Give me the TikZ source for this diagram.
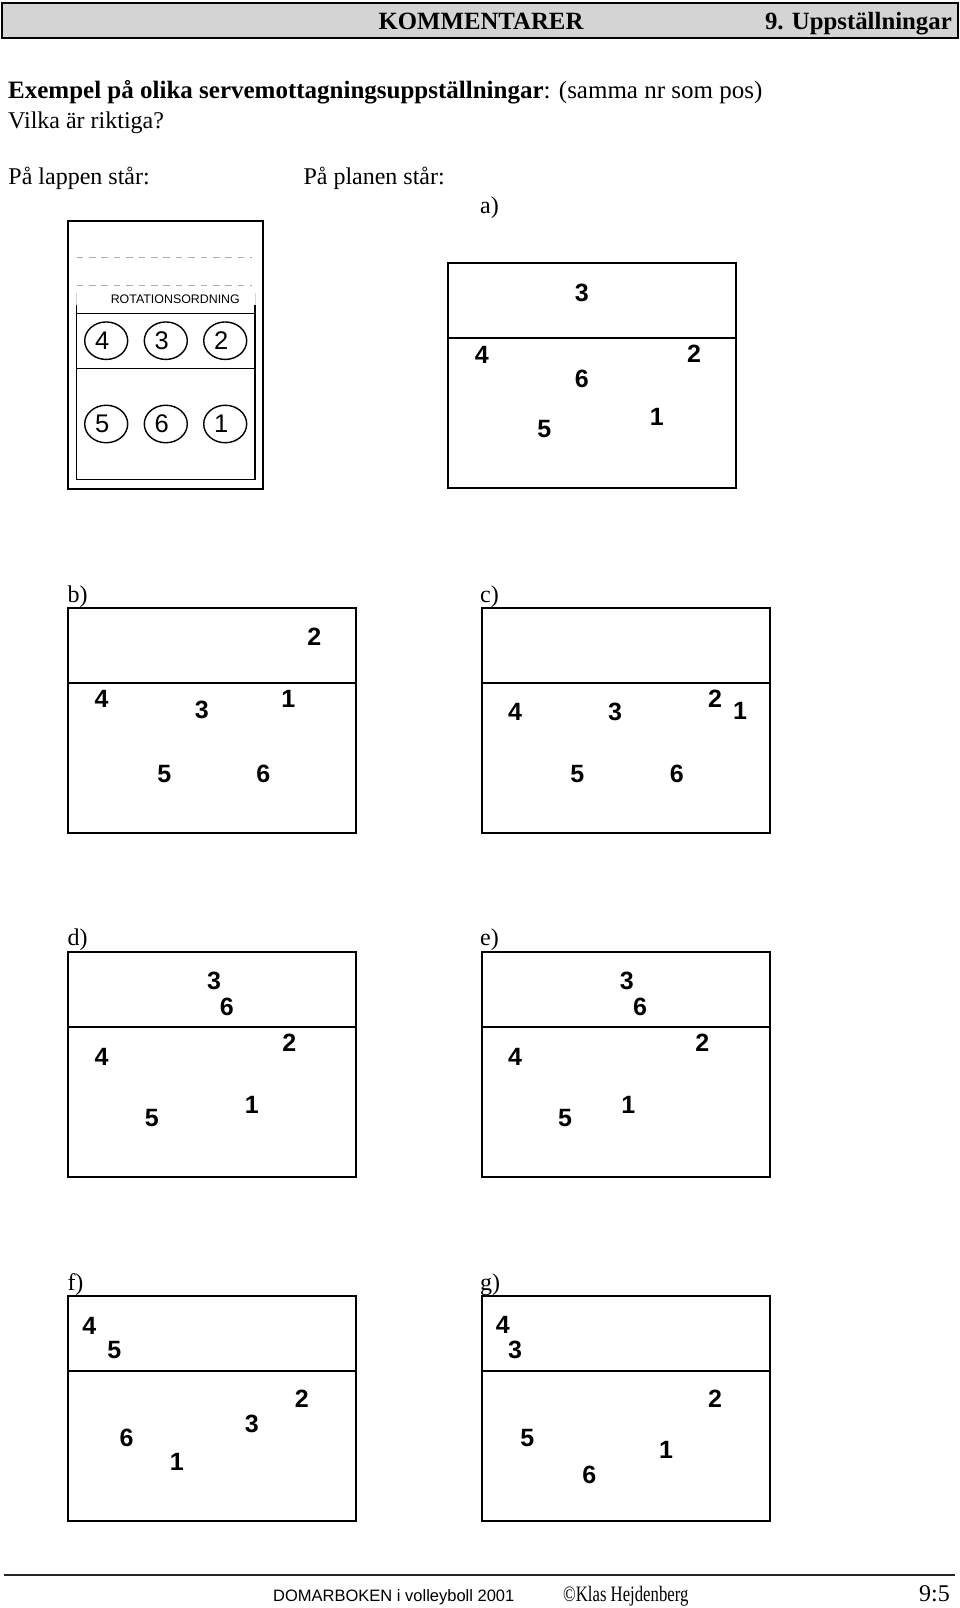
\documentclass[tikz,border=0pt]{standalone}
\usepackage{fontspec}
\usetikzlibrary{shapes.geometric}
\setmainfont{Liberation Serif}
\setsansfont{Liberation Sans}
\definecolor{headgray}{gray}{0.83}
\definecolor{dashgray}{gray}{0.68}
\tikzset{
  courtline/.style={line width=2.2pt},
  pnum/.style={inner sep=0pt, font=\sffamily\bfseries\fontsize{25}{25}\selectfont},
  rotell/.style={draw, ellipse, line width=1.4pt, minimum width=43pt, minimum height=37.5pt, inner sep=0pt},
  rotnum/.style={inner sep=0pt, font=\sffamily\fontsize{25.5}{25.5}\selectfont},
  bodytext/.style={inner sep=0pt, font=\fontsize{24}{24}\selectfont},
  headtext/.style={inner sep=0pt, font=\bfseries\fontsize{24.8}{24.8}\selectfont},
  lbl/.style={inner sep=0pt, anchor=base west, font=\fontsize{24}{24}\selectfont},
}
\newcommand{\courtbox}[2]{%
  \draw[courtline] (#1,#2) rectangle ++(287.5,225);
  \draw[courtline] (#1,#2+75) -- ++(287.5,0);
}
\begin{document}
\begin{tikzpicture}[x=1pt,y=-1pt]
\useasboundingbox (0,0) rectangle (960,1608);
% header
\draw[line width=1.5pt, fill=headgray] (2,3) rectangle (958,38);
\node[headtext, anchor=base] (kom) at (481,30) {KOMMENTARER};
\node[headtext, anchor=base east] (chap) at (952,30) {9. Uppställningar};
% intro text
\node[bodytext, anchor=base west, font=\fontsize{25}{25}\selectfont] (l1) at (8,99) {\textbf{Exempel på olika servemottagningsuppställningar}: (samma nr som pos)};
\node[bodytext, anchor=base west] (l2) at (8,129) {Vilka är riktiga?};
\node[bodytext, anchor=base west] (lap) at (8.3,185) {På lappen står:};
\node[bodytext, anchor=base west] (pla) at (303.3,185) {På planen står:};
% the card
\draw[line width=1.8pt] (68,220.7) rectangle (263,489);
\draw[dashgray, line width=1pt, dash pattern=on 6.7pt off 5.7pt] (76.5,257.3) -- (252,257.3);
\draw[dashgray, line width=1pt, dash pattern=on 6.7pt off 5.7pt] (76.5,285.7) -- (252,285.7);
\draw[dashgray!50, line width=0.6pt] (76.3,293) -- (76.3,305) (255,293) -- (255,305);
\draw[line width=1.6pt] (76.3,305) -- (76.3,479.3) -- (255,479.3) -- (255,305);
\draw[line width=1.6pt] (76.3,313.3) -- (255,313.3);
\draw[line width=1.6pt] (76.3,368.3) -- (255,368.3);
\node[inner sep=0pt, font=\sffamily\fontsize{12.4}{12.4}\selectfont] (rot) at (175.3,299.3) {ROTATIONSORDNING};
\node[rotell] (e4) at (106.2,340.7) {};
\node[rotell] (e3) at (165.8,340.7) {};
\node[rotell] (e2) at (225.2,340.7) {};
\node[rotell] (e5) at (106.2,424) {};
\node[rotell] (e6) at (165.8,424) {};
\node[rotell] (e1) at (225.2,424) {};
\node[rotnum] (r4) at ([xshift=-4pt]e4.center) {4};
\node[rotnum] (r3) at ([xshift=-4pt]e3.center) {3};
\node[rotnum] (r2) at ([xshift=-4pt]e2.center) {2};
\node[rotnum] (r5) at ([xshift=-4pt]e5.center) {5};
\node[rotnum] (r6) at ([xshift=-4pt]e6.center) {6};
\node[rotnum] (r1) at ([xshift=-4pt]e1.center) {1};
% court a
\node[lbl] (la) at (480,213) {a)};
\courtbox{448.3}{263.3}
\node[pnum] (a3) at (581.7,292.7) {3};
\node[pnum] (a4) at (481.7,355) {4};
\node[pnum] (a2) at (694,354) {2};
\node[pnum] (a6) at (581.7,379.3) {6};
\node[pnum] (a1) at (656.7,417.3) {1};
\node[pnum] (a5) at (544.3,429.3) {5};
% court b
\node[lbl] (lb) at (67.3,602.5) {b)};
\courtbox{68.3}{607.7}
\node[pnum] (b2) at (314.3,636.7) {2};
\node[pnum] (b4) at (101.7,699.3) {4};
\node[pnum] (b3) at (201.7,710) {3};
\node[pnum] (b1) at (288.3,699.3) {1};
\node[pnum] (b5) at (164.3,774) {5};
\node[pnum] (b6) at (263.3,774) {6};
% court c
\node[lbl] (lc) at (480,602.5) {c)};
\courtbox{482.3}{607.7}
\node[pnum] (c4) at (515,711.7) {4};
\node[pnum] (c3) at (615,711.7) {3};
\node[pnum] (c2) at (715,698.3) {2};
\node[pnum] (c1) at (740,710.7) {1};
\node[pnum] (c5) at (577.3,774) {5};
\node[pnum] (c6) at (676.7,774) {6};
% court d
\node[lbl] (ld) at (67.3,945) {d)};
\courtbox{68.3}{952.3}
\node[pnum] (d3) at (214,980.7) {3};
\node[pnum] (d6) at (226.7,1006.7) {6};
\node[pnum] (d2) at (289.3,1042.7) {2};
\node[pnum] (d4) at (101.7,1056.7) {4};
\node[pnum] (d1) at (251.7,1105) {1};
\node[pnum] (d5) at (151.7,1118.3) {5};
% court e
\node[lbl] (le) at (480,945) {e)};
\courtbox{482.3}{952.3}
\node[pnum] (e3n) at (626.7,980.7) {3};
\node[pnum] (e6n) at (640,1006.7) {6};
\node[pnum] (e2n) at (702.3,1042.7) {2};
\node[pnum] (e4n) at (515,1056.7) {4};
\node[pnum] (e1n) at (628.3,1105) {1};
\node[pnum] (e5n) at (565,1118.3) {5};
% court f
\node[lbl] (lf) at (67.3,1290) {f)};
\courtbox{68.3}{1296.3}
\node[pnum] (f4) at (89.3,1325.7) {4};
\node[pnum] (f5) at (114.3,1350) {5};
\node[pnum] (f2) at (301.7,1399) {2};
\node[pnum] (f3) at (251.7,1424.3) {3};
\node[pnum] (f6) at (126.7,1437.7) {6};
\node[pnum] (f1) at (176.7,1461.7) {1};
% court g
\node[lbl] (lg) at (480,1290) {g)};
\courtbox{482.3}{1296.3}
\node[pnum] (g4) at (502.7,1325) {4};
\node[pnum] (g3) at (515,1350) {3};
\node[pnum] (g2) at (715,1399) {2};
\node[pnum] (g5) at (527.3,1437.7) {5};
\node[pnum] (g1) at (666,1450) {1};
\node[pnum] (g6) at (589.3,1475) {6};
% footer
\draw[line width=2.5pt, black!85] (4,1575) -- (955,1575);
\node[inner sep=0pt, anchor=base west, font=\sffamily\fontsize{16.5}{16.5}\selectfont] (dom) at (273,1601) {DOMARBOKEN i volleyboll 2001};
\node[inner sep=0pt, anchor=base west] (klas) at (563,1601.5) {\scalebox{0.76}[1]{\fontsize{22}{22}\selectfont ©Klas Hejdenberg}};
\node[inner sep=0pt, anchor=base east, font=\fontsize{24}{24}\selectfont] (pg) at (950,1601.5) {9:5};
\end{tikzpicture}
\end{document}
